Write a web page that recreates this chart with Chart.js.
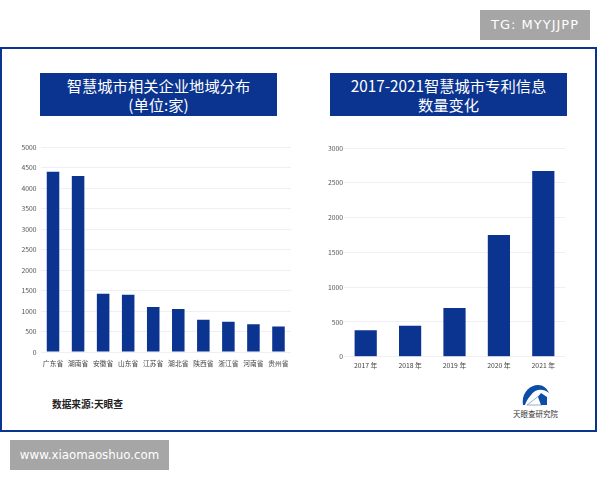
<!DOCTYPE html>
<html lang="zh">
<head>
<meta charset="utf-8">
<title>智慧城市</title>
<style>
  html, body { margin: 0; padding: 0; background: #fff; }
  body { width: 600px; height: 480px; position: relative; overflow: hidden; font-family: "Noto Sans CJK SC", sans-serif; }
  .frame { position: absolute; left: 0; top: 47px; width: 592.5px; height: 380.5px; border: 2.7px solid #0b3390; }
  .title { position: absolute; top: 73px; width: 237px; height: 43px; background: #0b3390; color: #fff; font-size: 15.3px; line-height: 18.5px; text-align: center; padding-top: 3px; box-sizing: border-box; }
  .mark { position: absolute; background: #a6a6a6; color: #fff; font-family: "DejaVu Sans", sans-serif; text-align: center; height: 30px; line-height: 30px; white-space: nowrap; }
  .chart { position: absolute; }
  .source { position: absolute; left: 52px; top: 397px; font-size: 9.7px; line-height: 14px; font-weight: 700; color: #222; }
  .org { position: absolute; left: 513px; top: 408px; font-size: 7.5px; line-height: 12px; color: #333; white-space: nowrap; }
  svg { position: absolute; left: 522px; top: 384px; }
</style>
</head>
<body>
<div class="mark" style="left:480px;top:10px;width:110px;font-size:13px;letter-spacing:1px;">TG: MYYJJPP</div>
<div class="frame"></div>
<div class="title" style="left:40px;">智慧城市相关企业地域分布<br>(单位:家)</div>
<div class="title" style="left:330px;">2017-2021智慧城市专利信息<br>数量变化</div>
<div class="chart" style="left:0;top:137px;width:300px;height:240px;"><canvas id="provinceChart"></canvas></div>
<div class="chart" style="left:300px;top:138px;width:300px;height:240px;"><canvas id="patentChart"></canvas></div>
<div class="source">数据来源:天眼查</div>
<svg width="28" height="24" viewBox="0 0 28 24">
  <path d="M1 21 C-1 9 8 1 16 1 C21 1 25 4 27 9 C21 4 13 5 9 11 C6 14 4 18 3 21 Z" fill="#0b4ea8"/>
  <path d="M5 21 L18 11 L20 21 Z" fill="none" stroke="#7f9cc4" stroke-width="0.8"/>
  <path d="M16 13 L19 9 L25 13 L25 21 L19 21 Z" fill="#0b4ea8"/>
</svg>
<div class="org">天眼查研究院</div>
<div class="mark" style="left:10px;top:440px;width:159px;font-size:11.8px;">www.xiaomaoshuo.com</div>

<script src="https://cdn.jsdelivr.net/npm/chart.js@4"></script>
<script>
const provinces = ['广东省', '湖南省', '安徽省', '山东省', '江苏省', '湖北省', '陕西省', '浙江省', '河南省', '贵州省'];
const provinceValues = [4400, 4300, 1420, 1400, 1100, 1050, 790, 740, 680, 620];
const provinceTicks = [0, 500, 1000, 1500, 2000, 2500, 3000, 3500, 4000, 4500, 5000];

const years = ['2017 年', '2018 年', '2019 年', '2020 年', '2021 年'];
const patentValues = [380, 445, 700, 1750, 2670];
const patentTicks = [0, 500, 1000, 1500, 2000, 2500, 3000];

const BLUE = '#0b3390';
const FONT = '"Noto Sans CJK SC", sans-serif';

// axisWidth/axisHeight pin the plot area so it lands where the reference has it
function makeBarChart(id, labels, values, ticks, axisWidth, axisHeight, labelGap, valueGap, pad) {
  return new Chart(document.getElementById(id), {
    type: 'bar',
    data: {
      labels,
      datasets: [{
        data: values,
        backgroundColor: BLUE,
        barPercentage: 0.5,
        categoryPercentage: 1,
      }]
    },
    options: {
      responsive: true, maintainAspectRatio: false,
      animation: false,
      layout: { padding: pad },
      plugins: { legend: { display: false }, tooltip: { enabled: false } },
      scales: {
        x: {
          grid: { display: false, drawTicks: false },
          border: { display: false },
          afterFit: s => { s.height = axisHeight; },
          ticks: { color: '#444', font: { family: FONT, size: 6.8 }, padding: labelGap, autoSkip: false, maxRotation: 0 }
        },
        y: {
          min: ticks[0], max: ticks[ticks.length - 1],
          afterBuildTicks: s => { s.ticks = ticks.map(value => ({ value })); },
          afterFit: s => { s.width = axisWidth; },
          grid: { color: '#eef0f5', lineWidth: 1, drawTicks: false },
          border: { display: false },
          ticks: { color: '#555', font: { family: FONT, size: 6.8 }, padding: valueGap, callback: v => String(v) }
        }
      }
    }
  });
}

makeBarChart('provinceChart', provinces, provinceValues, provinceTicks, 40.5, 25, 7.5, 4, { top: 10.3, right: 9, bottom: 0, left: 0 });
makeBarChart('patentChart', years, patentValues, patentTicks, 43.5, 21.3, 4.5, 0.5, { top: 10, right: 34.5, bottom: 0, left: 0 });
</script>
</body>
</html>
